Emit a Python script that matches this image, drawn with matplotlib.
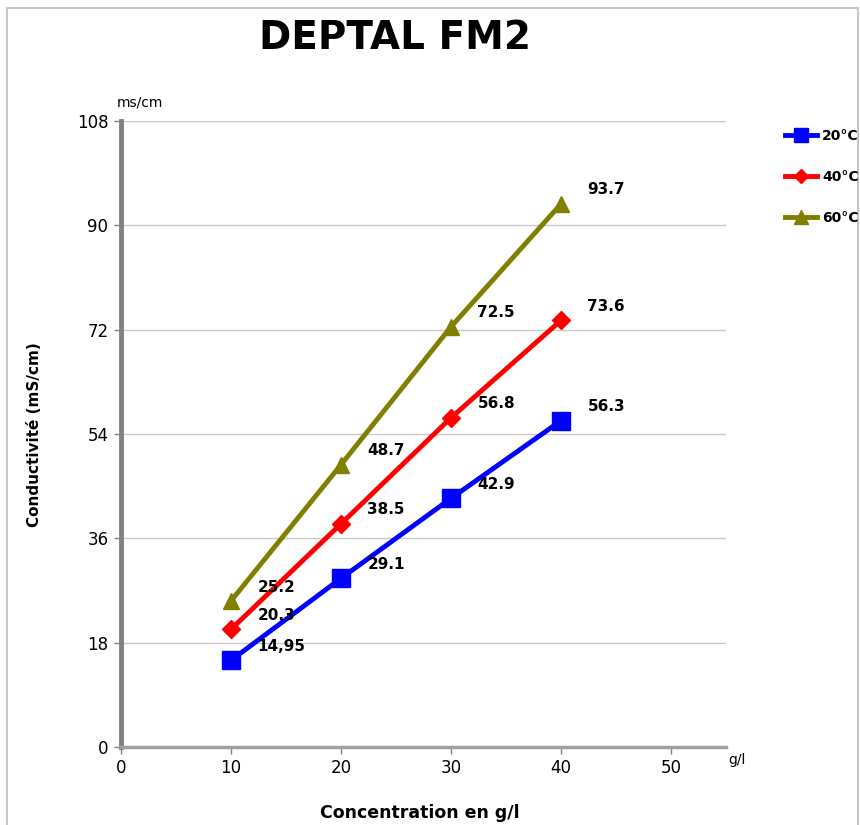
import matplotlib
matplotlib.use("Agg")
import matplotlib.pyplot as plt
from matplotlib.patches import Rectangle
from matplotlib.lines import Line2D

plt.rcParams['font.family'] = ['DejaVu Sans']

concentration = [10, 20, 30, 40]
series_names = ["20°C", "40°C", "60°C"]
cond_20 = [14.95, 29.1, 42.9, 56.3]
cond_40 = [20.3, 38.5, 56.8, 73.6]
cond_60 = [25.2, 48.7, 72.5, 93.7]
labels_20 = ["14,95", "29.1", "42.9", "56.3"]
labels_40 = ["20.3", "38.5", "56.8", "73.6"]
labels_60 = ["25.2", "48.7", "72.5", "93.7"]
x_ticks = [0, 10, 20, 30, 40, 50]
y_ticks = [0, 18, 36, 54, 72, 90, 108]

colors = ["#0000FF", "#FF0000", "#808000"]
markers = ["s", "D", "^"]
msizes = [13, 9, 12]

fig = plt.figure(figsize=(8.6, 8.25), dpi=100)
fig.patches.append(Rectangle((7/860, -0.01), (858-7)/860, 1 - 8/825 + 0.01,
                             transform=fig.transFigure, fill=False,
                             edgecolor="#C8C8C8", linewidth=1.5, zorder=0))

ax = fig.add_axes([121/860, 1-747/825, (726-121)/860, (747-121)/825])
ax.set_xlim(0, 55)
ax.set_ylim(0, 108)
ax.set_xticks(x_ticks)
ax.set_yticks(y_ticks)
ax.tick_params(axis='both', labelsize=12, color="#808080", length=5, width=1)
ax.tick_params(axis='y', pad=4)
ax.grid(axis='y', color="#C8C8C8", linewidth=1)
ax.set_axisbelow(True)
for s in ["top", "right"]:
    ax.spines[s].set_visible(False)
ax.spines["left"].set_color("#808080")
ax.spines["left"].set_linewidth(3.5)
ax.spines["bottom"].set_color("#A0A0A0")
ax.spines["bottom"].set_linewidth(2.5)

all_series = [cond_20, cond_40, cond_60]
all_labels = [labels_20, labels_40, labels_60]
handles = []
for vals, labs, c, m, ms, name in zip(all_series, all_labels, colors, markers, msizes, series_names):
    ln, = ax.plot(concentration, vals, color=c, linewidth=3.5, marker=m,
                  markersize=ms, markeredgecolor=c, label=name, zorder=3,
                  clip_on=False)
    handles.append(Line2D([0], [0], color=c, linewidth=3.5, marker=m,
                          markersize=ms * 0.8, markeredgecolor=c))
    for xv, yv, lab in zip(concentration, vals, labs):
        ax.annotate(lab, (xv, yv), xytext=(19, 10), textcoords="offset points",
                    ha="left", va="center", fontsize=11, fontweight="bold",
                    zorder=4)

leg = fig.legend(handles, series_names, loc="upper left",
                 bbox_to_anchor=(779/860, 1-123/825), frameon=False,
                 prop={"weight": "bold", "size": 10}, handlelength=2.3,
                 handletextpad=0.4, labelspacing=1.95, borderaxespad=0)

fig.text(395/860, 1-38/825, "DEPTAL FM2", ha="center", va="center",
         fontsize=28, fontweight="bold")
fig.text(140/860, 1-103/825, "ms/cm", ha="center", va="center", fontsize=10)
fig.text(737/860, 1-760/825, "g/l", ha="center", va="center", fontsize=10)
fig.text(420/860, 1-813/825, "Concentration en g/l", ha="center", va="center",
         fontsize=12.5, fontweight="bold")
fig.text(35/860, 1-435/825, "Conductivité (mS/cm)", ha="center", va="center",
         rotation=90, fontsize=11, fontweight="bold")

fig.savefig("out.png", dpi=100)
